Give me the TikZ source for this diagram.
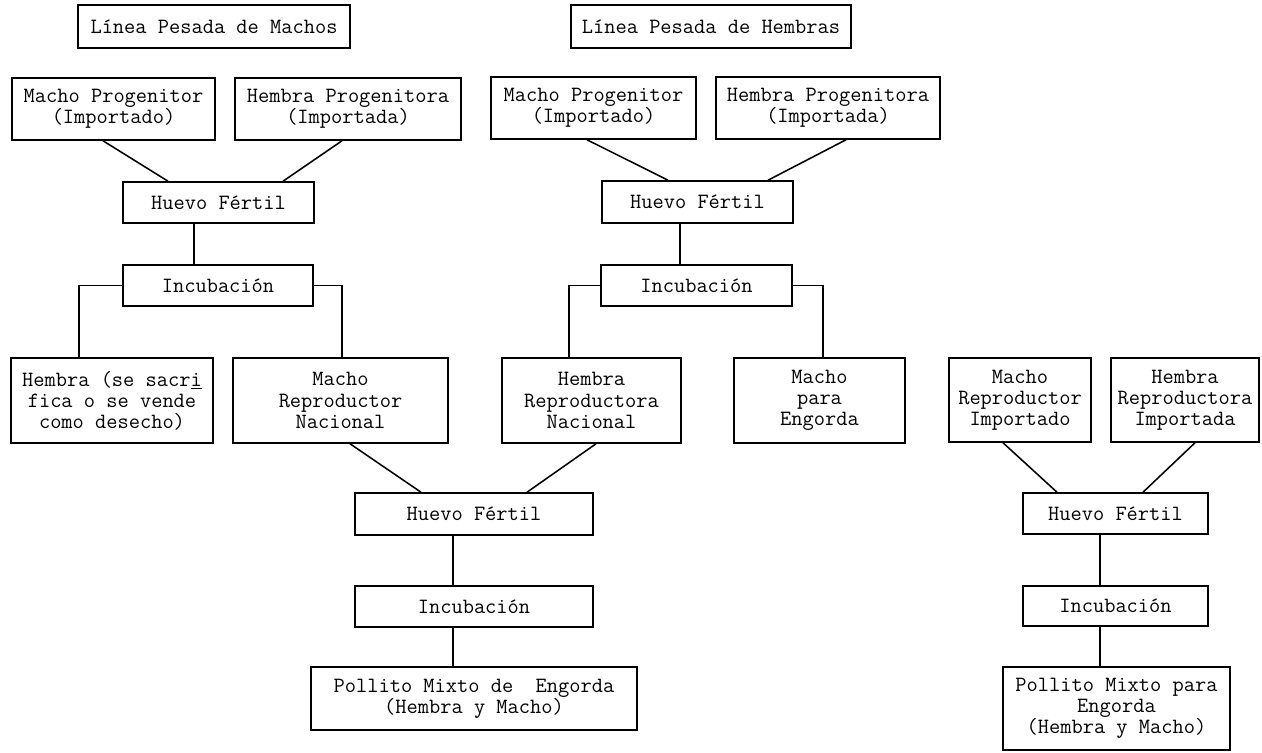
\documentclass[tikz,border=0pt]{standalone}
\usetikzlibrary{calc}
\newcommand{\px}{0.025cm}
\begin{document}
\begin{tikzpicture}[x=0.025cm, y=-0.025cm,
    caja/.style={draw, line width=1.1pt, align=center, inner sep=0pt, font=\fontsize{15.5}{15}\selectfont\ttfamily},
    tam/.style 2 args={minimum width=#1*\px, minimum height=#2*\px},
    linea/.style={line width=1.1pt},
  ]
  \useasboundingbox (0,0) rectangle (1262,753);
  % lineas pesadas
  \node[caja, tam={272}{43}] (lpm) at (214,26.5) {Línea Pesada de Machos};
  \node[caja, tam={280}{43}] (lph) at (711,26.5) {Línea Pesada de Hembras};
  % progenitores
  \node[caja, tam={203}{62}] (mp1) at (113.5,109) {Macho Progenitor\\(Importado)};
  \node[caja, tam={226}{62}] (hp1) at (348,109)   {Hembra Progenitora\\(Importada)};
  \node[caja, tam={205}{62}] (mp2) at (593.5,108) {Macho Progenitor\\(Importado)};
  \node[caja, tam={224}{62}] (hp2) at (828,108)   {Hembra Progenitora\\(Importada)};
  % huevo e incubacion
  \node[caja, tam={191}{41}] (hf1) at (218.5,202.5) {Huevo Fértil};
  \node[caja, tam={191}{42}] (hf2) at (697.5,202)   {Huevo Fértil};
  \node[caja, tam={190}{41}] (inc1) at (218,285.5)  {Incubación};
  \node[caja, tam={191}{41}] (inc2) at (696.5,285.5) {Incubación};
  % reproductores
  \node[caja, tam={202}{85}] (hsac) at (112,400.5)   {Hembra (se sacr\underline{i}\\fica o se vende\\como desecho)};
  \node[caja, tam={215}{85}] (mrn)  at (340.5,400.5) {Macho\\Reproductor\\Nacional};
  \node[caja, tam={179}{85}] (hrn)  at (591.5,400.5) {Hembra\\Reproductora\\Nacional};
  \node[caja, tam={171}{85}] (mpe)  at (819.5,400.5) {Macho\\para\\Engorda};
  \node[caja, tam={142}{84}] (mri)  at (1020,400)    {Macho\\Reproductor\\Importado};
  \node[caja, tam={148}{84}] (hri)  at (1185,400)    {Hembra\\Reproductora\\Importada};
  % pollito nacional
  \node[caja, tam={238}{42}] (hf3)  at (474,514)   {Huevo Fértil};
  \node[caja, tam={238}{41}] (inc3) at (474,606.5) {Incubación};
  \node[caja, tam={326}{63}] (pol3) at (474,698.5) {Pollito Mixto de~~Engorda\\(Hembra y Macho)};
  % pollito importado
  \node[caja, tam={185}{41}] (hf4)  at (1115.5,513.5) {Huevo Fértil};
  \node[caja, tam={185}{40}] (inc4) at (1115.5,606)   {Incubación};
  \node[caja, tam={227}{83}] (pol4) at (1116.5,708.5) {Pollito Mixto para\\Engorda\\(Hembra y Macho)};

  % conexiones
  \draw[linea] ($(mp1.south)+(-10.5,0)$) -- ($(hf1.north)+(-50.5,0)$);
  \draw[linea] ($(hp1.south)+(-6,0)$) -- ($(hf1.north)+(64.5,0)$);
  \draw[linea] ($(hf1.south)+(-24.5,0)$) -- ($(inc1.north)+(-24,0)$);
  \draw[linea] (inc1.west) -| ($(hsac.north)+(-33,0)$);
  \draw[linea] (inc1.east) -| ($(mrn.north)+(1.5,0)$);
  \draw[linea] ($(mp2.south)+(-6.5,0)$) -- ($(hf2.north)+(-29.5,0)$);
  \draw[linea] ($(hp2.south)+(18,0)$) -- ($(hf2.north)+(70.5,0)$);
  \draw[linea] ($(hf2.south)+(-17.5,0)$) -- ($(inc2.north)+(-16.5,0)$);
  \draw[linea] (inc2.west) -| ($(hrn.north)+(-22.5,0)$);
  \draw[linea] (inc2.east) -| ($(mpe.north)+(3.5,0)$);
  \draw[linea] ($(mrn.south)+(9.5,0)$) -- ($(hf3.north)+(-53,0)$);
  \draw[linea] ($(hrn.south)+(4.5,0)$) -- ($(hf3.north)+(53,0)$);
  \draw[linea] ($(hf3.south)+(-21,0)$) -- ($(inc3.north)+(-21,0)$);
  \draw[linea] ($(inc3.south)+(-21,0)$) -- ($(pol3.north)+(-21,0)$);
  \draw[linea] ($(mri.south)+(-17,0)$) -- ($(hf4.north)+(-58.5,0)$);
  \draw[linea] ($(hri.south)+(10,0)$) -- ($(hf4.north)+(27.5,0)$);
  \draw[linea] ($(hf4.south)+(-15.5,0)$) -- ($(inc4.north)+(-15.5,0)$);
  \draw[linea] ($(inc4.south)+(-15.5,0)$) -- ($(pol4.north)+(-16.5,0)$);
\end{tikzpicture}
\end{document}
